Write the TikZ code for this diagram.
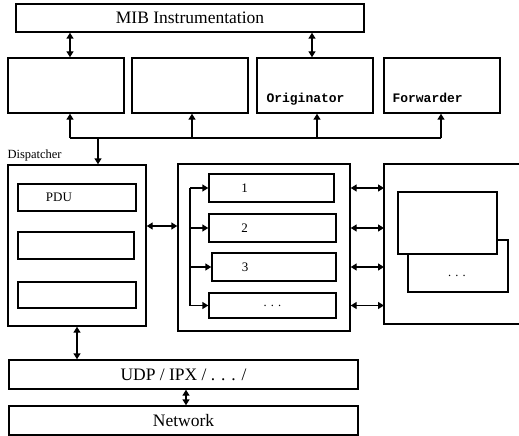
\documentclass[tikz,border=0pt]{standalone}
\usepackage{fontspec}
\setmainfont{Liberation Serif}
\newfontfamily\slabfont{Liberation Mono}
\usetikzlibrary{positioning,calc,arrows.meta}

\newcommand{\bigtxt}{\fontsize{17.5}{20}\selectfont}
\newcommand{\midtxt}{\fontsize{13}{15}\selectfont}
\newcommand{\smalltxt}{\fontsize{12.5}{14}\selectfont}

\tikzset{
    blk/.style={draw, line width=1.4pt, inner sep=0pt, fill=white},
    link/.style={line width=1.4pt},
    dbl/.style={link, {Triangle[length=6pt,width=7pt]}-{Triangle[length=6pt,width=7pt]}},
    one/.style={link, -{Triangle[length=6pt,width=7pt]}}
}

\begin{document}
\begin{tikzpicture}[x=1pt, y=-1pt]
    \useasboundingbox (0,0) rectangle (519,436);

    % top layer
    \node[blk, minimum width=348pt, minimum height=28pt] (mib) at (190,18) {\bigtxt MIB Instrumentation};
    \node[blk, minimum width=116pt, minimum height=55pt] (app1) at (66,85.5) {};
    \node[blk, minimum width=116pt, minimum height=55pt] (app2) at (190,85.5) {};
    \node[blk, minimum width=116pt, minimum height=55pt] (orig) at (315,85.5) {};
    \node[blk, minimum width=116pt, minimum height=55pt] (fwd) at (442,85.5) {};
    \node[anchor=base west, font=\slabfont\bfseries\midtxt] (origtxt) at (263,102) {Originator};
    \node[anchor=base west, font=\slabfont\bfseries\midtxt] (fwdtxt) at (389,102) {Forwarder};

    \draw[dbl] (mib.south -| 70,0) -- (app1.north -| 70,0);
    \draw[dbl] (mib.south -| 312,0) -- (orig.north -| 312,0);

    % bus under the applications
    \coordinate (busl) at (70,138);
    \coordinate (busr) at (441,138);
    \draw[link] (busl) -- (busr);
    \draw[one] (busl) -- (app1.south -| busl);
    \draw[one] (busl -| 192,0) -- (app2.south -| 192,0);
    \draw[one] (busl -| 317,0) -- (orig.south -| 317,0);
    \draw[one] (busr) -- (fwd.south -| busr);

    % dispatcher
    \node[blk, minimum width=138pt, minimum height=161pt] (disp) at (77,245.5) {};
    \node[anchor=south west, inner sep=0pt, font=\smalltxt] (disptxt) at ($(disp.north west)+(0,-3)$) {Dispatcher};
    \draw[one] (busl -| 98,0) -- (disp.north -| 98,0);
    \node[blk, minimum width=118pt, minimum height=27pt,
          label={[xshift=-18pt, font=\midtxt]center:PDU}] (pdu) at (77,197.5) {};
    \node[blk, minimum width=116pt, minimum height=27pt] (dsp2) at (76,245.5) {};
    \node[blk, minimum width=118pt, minimum height=26pt] (dsp3) at (77,295) {};

    % middle block
    \node[blk, minimum width=172pt, minimum height=167pt] (mid) at (264,247.5) {};
    \draw[dbl] (disp.east |- 0,226) -- (mid.west |- 0,226);
    \node[blk, minimum width=125pt, minimum height=28pt,
          label={[xshift=-27pt, font=\midtxt]center:1}] (row1) at (271.5,188) {};
    \node[blk, minimum width=127pt, minimum height=28pt,
          label={[xshift=-28pt, font=\midtxt]center:2}] (row2) at (272.5,228) {};
    \node[blk, minimum width=124pt, minimum height=28pt,
          label={[xshift=-29pt, font=\midtxt]center:3}] (row3) at (274,267) {};
    \node[blk, minimum width=127pt, minimum height=25pt,
          label={[font=\smalltxt]center:. . .}] (row4) at (272.5,305.5) {};
    \coordinate (trunk) at (190,0);
    \draw[link] (trunk |- row1.west) -- (trunk |- row4.west);
    \foreach \r in {row1,row2,row3,row4}
        \draw[one] (trunk |- \r.west) -- (\r.west);

    % right block, cut by the edge
    \coordinate (rbw) at (384,244);
    \draw[link] (519,164) -- (384,164) -- (384,324) -- (519,324);
    \foreach \r in {row1,row2,row3,row4}
        \draw[dbl] (mid.east |- \r.east) -- (rbw |- \r.east);
    \node[blk, minimum width=100pt, minimum height=52pt] (back) at (458,266) {};
    \node[font=\smalltxt] (backtxt) at (457,276) {. . .};
    \node[blk, minimum width=99pt, minimum height=62pt] (front) at (447.5,223) {};

    % transport and network
    \node[blk, minimum width=349pt, minimum height=29pt] (udp) at (183.5,374.5) {\bigtxt UDP / IPX / . . . /};
    \node[blk, minimum width=349pt, minimum height=29pt] (net) at (183.5,420.5) {\bigtxt Network};
    \draw[dbl] (disp.south -| 77,0) -- (udp.north -| 77,0);
    \draw[dbl] (udp.south -| 186,0) -- (net.north -| 186,0);
\end{tikzpicture}
\end{document}
